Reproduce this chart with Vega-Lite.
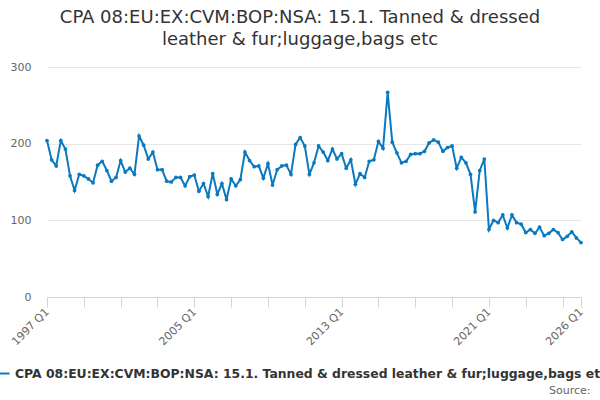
{
  "$schema": "https://vega.github.io/schema/vega-lite/v6.json",
  "autosize": "none",
  "padding": {"left": 47, "top": 67, "right": 19, "bottom": 103},
  "width": 534,
  "height": 230,
  "background": "white",
  "title": {
    "text": ["CPA 08:EU:EX:CVM:BOP:NSA: 15.1. Tanned & dressed", "leather & fur;luggage,bags etc"],
    "font": "DejaVu Sans",
    "fontSize": 18,
    "fontWeight": "normal",
    "color": "#333333",
    "anchor": "middle",
    "frame": "group",
    "dx": -14,
    "lineHeight": 22,
    "offset": 12
  },
  "config": {
    "font": "DejaVu Sans",
    "view": {"stroke": null}
  },
  "data": {
    "values": [
      {"quarter": "1997 Q1", "value": 204}, {"quarter": "1997 Q2", "value": 179}, {"quarter": "1997 Q3", "value": 171}, {"quarter": "1997 Q4", "value": 204},
      {"quarter": "1998 Q1", "value": 193}, {"quarter": "1998 Q2", "value": 158}, {"quarter": "1998 Q3", "value": 139}, {"quarter": "1998 Q4", "value": 160},
      {"quarter": "1999 Q1", "value": 158}, {"quarter": "1999 Q2", "value": 154}, {"quarter": "1999 Q3", "value": 149}, {"quarter": "1999 Q4", "value": 172},
      {"quarter": "2000 Q1", "value": 177}, {"quarter": "2000 Q2", "value": 165}, {"quarter": "2000 Q3", "value": 151}, {"quarter": "2000 Q4", "value": 156},
      {"quarter": "2001 Q1", "value": 178}, {"quarter": "2001 Q2", "value": 163}, {"quarter": "2001 Q3", "value": 168}, {"quarter": "2001 Q4", "value": 160},
      {"quarter": "2002 Q1", "value": 210}, {"quarter": "2002 Q2", "value": 198}, {"quarter": "2002 Q3", "value": 180}, {"quarter": "2002 Q4", "value": 189},
      {"quarter": "2003 Q1", "value": 166}, {"quarter": "2003 Q2", "value": 166}, {"quarter": "2003 Q3", "value": 151}, {"quarter": "2003 Q4", "value": 150},
      {"quarter": "2004 Q1", "value": 156}, {"quarter": "2004 Q2", "value": 156}, {"quarter": "2004 Q3", "value": 145}, {"quarter": "2004 Q4", "value": 157},
      {"quarter": "2005 Q1", "value": 159}, {"quarter": "2005 Q2", "value": 138}, {"quarter": "2005 Q3", "value": 148}, {"quarter": "2005 Q4", "value": 131},
      {"quarter": "2006 Q1", "value": 161}, {"quarter": "2006 Q2", "value": 134}, {"quarter": "2006 Q3", "value": 148}, {"quarter": "2006 Q4", "value": 127},
      {"quarter": "2007 Q1", "value": 154}, {"quarter": "2007 Q2", "value": 145}, {"quarter": "2007 Q3", "value": 153}, {"quarter": "2007 Q4", "value": 189},
      {"quarter": "2008 Q1", "value": 178}, {"quarter": "2008 Q2", "value": 170}, {"quarter": "2008 Q3", "value": 171}, {"quarter": "2008 Q4", "value": 155},
      {"quarter": "2009 Q1", "value": 174}, {"quarter": "2009 Q2", "value": 146}, {"quarter": "2009 Q3", "value": 166}, {"quarter": "2009 Q4", "value": 171},
      {"quarter": "2010 Q1", "value": 172}, {"quarter": "2010 Q2", "value": 160}, {"quarter": "2010 Q3", "value": 199}, {"quarter": "2010 Q4", "value": 208},
      {"quarter": "2011 Q1", "value": 197}, {"quarter": "2011 Q2", "value": 160}, {"quarter": "2011 Q3", "value": 175}, {"quarter": "2011 Q4", "value": 197},
      {"quarter": "2012 Q1", "value": 189}, {"quarter": "2012 Q2", "value": 178}, {"quarter": "2012 Q3", "value": 193}, {"quarter": "2012 Q4", "value": 180},
      {"quarter": "2013 Q1", "value": 187}, {"quarter": "2013 Q2", "value": 168}, {"quarter": "2013 Q3", "value": 179}, {"quarter": "2013 Q4", "value": 147},
      {"quarter": "2014 Q1", "value": 161}, {"quarter": "2014 Q2", "value": 156}, {"quarter": "2014 Q3", "value": 177}, {"quarter": "2014 Q4", "value": 179},
      {"quarter": "2015 Q1", "value": 203}, {"quarter": "2015 Q2", "value": 194}, {"quarter": "2015 Q3", "value": 267}, {"quarter": "2015 Q4", "value": 202},
      {"quarter": "2016 Q1", "value": 188}, {"quarter": "2016 Q2", "value": 175}, {"quarter": "2016 Q3", "value": 177}, {"quarter": "2016 Q4", "value": 186},
      {"quarter": "2017 Q1", "value": 187}, {"quarter": "2017 Q2", "value": 187}, {"quarter": "2017 Q3", "value": 190}, {"quarter": "2017 Q4", "value": 201},
      {"quarter": "2018 Q1", "value": 205}, {"quarter": "2018 Q2", "value": 202}, {"quarter": "2018 Q3", "value": 190}, {"quarter": "2018 Q4", "value": 195},
      {"quarter": "2019 Q1", "value": 197}, {"quarter": "2019 Q2", "value": 168}, {"quarter": "2019 Q3", "value": 182}, {"quarter": "2019 Q4", "value": 175},
      {"quarter": "2020 Q1", "value": 160}, {"quarter": "2020 Q2", "value": 111}, {"quarter": "2020 Q3", "value": 165}, {"quarter": "2020 Q4", "value": 180},
      {"quarter": "2021 Q1", "value": 88}, {"quarter": "2021 Q2", "value": 100}, {"quarter": "2021 Q3", "value": 97}, {"quarter": "2021 Q4", "value": 107},
      {"quarter": "2022 Q1", "value": 90}, {"quarter": "2022 Q2", "value": 107}, {"quarter": "2022 Q3", "value": 97}, {"quarter": "2022 Q4", "value": 95},
      {"quarter": "2023 Q1", "value": 84}, {"quarter": "2023 Q2", "value": 88}, {"quarter": "2023 Q3", "value": 83}, {"quarter": "2023 Q4", "value": 91},
      {"quarter": "2024 Q1", "value": 80}, {"quarter": "2024 Q2", "value": 83}, {"quarter": "2024 Q3", "value": 88}, {"quarter": "2024 Q4", "value": 84},
      {"quarter": "2025 Q1", "value": 75}, {"quarter": "2025 Q2", "value": 79}, {"quarter": "2025 Q3", "value": 85}, {"quarter": "2025 Q4", "value": 77},
      {"quarter": "2026 Q1", "value": 71}
    ]
  },
  "mark": {
    "type": "line",
    "strokeWidth": 2,
    "point": {"filled": true, "size": 14}
  },
  "encoding": {
    "x": {
      "field": "quarter",
      "type": "ordinal",
      "sort": null,
      "scale": {"type": "point", "padding": 0},
      "axis": {
        "values": ["1997 Q1", "1999 Q1", "2001 Q1", "2003 Q1", "2005 Q1", "2007 Q1", "2009 Q1", "2011 Q1", "2013 Q1", "2015 Q1", "2017 Q1", "2019 Q1", "2021 Q1", "2023 Q1", "2025 Q1", "2026 Q1"],
        "labelExpr": "indexof(['1997 Q1', '2005 Q1', '2013 Q1', '2021 Q1', '2026 Q1'], datum.value) >= 0 ? datum.value : ''",
        "labelAngle": -45,
        "labelAlign": "right",
        "labelBaseline": "middle",
        "labelFontSize": 11,
        "labelColor": "#666666",
        "labelPadding": 3,
        "labelOverlap": false,
        "domainColor": "#ccd6eb",
        "tickColor": "#ccd6eb",
        "tickSize": 10,
        "grid": false,
        "title": "Source:",
        "titleAnchor": "end",
        "titleAlign": "right",
        "titleBaseline": "alphabetic",
        "titleX": 543,
        "titleY": 96,
        "titleFontSize": 11,
        "titleFontWeight": "normal",
        "titleColor": "#666666"
      }
    },
    "y": {
      "field": "value",
      "type": "quantitative",
      "scale": {"domain": [0, 300], "nice": false},
      "axis": {
        "values": [0, 100, 200, 300],
        "title": null,
        "ticks": false,
        "domain": false,
        "gridColor": "#e6e6e6",
        "labelFontSize": 11,
        "labelColor": "#666666",
        "labelPadding": 16
      }
    },
    "color": {
      "datum": "CPA 08:EU:EX:CVM:BOP:NSA: 15.1. Tanned & dressed leather & fur;luggage,bags etc",
      "scale": {"range": ["#0a79bf"]},
      "legend": {
        "title": null,
        "orient": "none",
        "legendX": -53,
        "legendY": 298,
        "symbolType": "stroke",
        "symbolStrokeWidth": 2,
        "symbolSize": 200,
        "labelFontSize": 12.4,
        "labelFontWeight": "bold",
        "labelColor": "#333333",
        "labelLimit": 1000,
        "labelOffset": 4
      }
    }
  }
}
